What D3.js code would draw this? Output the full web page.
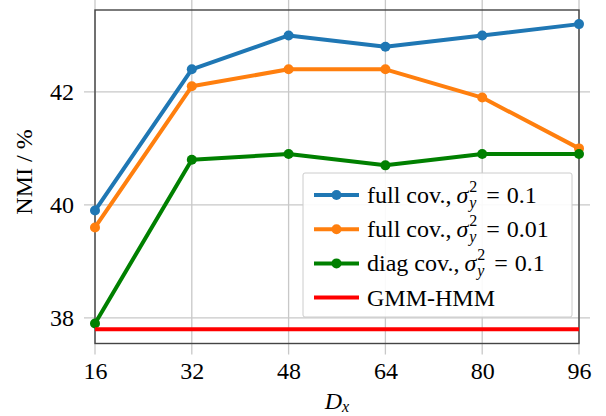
<!DOCTYPE html>
<html>
<head>
<meta charset="utf-8">
<script src="https://cdn.jsdelivr.net/npm/d3@7"></script>
<style>
  body { margin: 0; background: #fff; }
  svg text { font-family: "Liberation Serif", "DejaVu Serif", serif; }
</style>
</head>
<body>
<div id="chart"></div>
<script>
// data
const dx = [16, 32, 48, 64, 80, 96];
const fullCov01 = [39.9, 42.4, 43.0, 42.8, 43.0, 43.2];
const fullCov001 = [39.6, 42.1, 42.4, 42.4, 41.9, 41.0];
const diagCov01 = [37.9, 40.8, 40.9, 40.7, 40.9, 40.9];
const gmmHmm = [37.8, 37.8, 37.8, 37.8, 37.8, 37.8];
const yTicks = [38, 40, 42];
const seriesNames = ["full cov.,", "full cov.,", "diag cov.,", "GMM-HMM"];
const sigmaValues = ["0.1", "0.01", "0.1", null];

const series = [
    {name: seriesNames[0], sig: sigmaValues[0], values: fullCov01, color: "#1f77b4", marker: true},
    {name: seriesNames[1], sig: sigmaValues[1], values: fullCov001, color: "#ff7f0e", marker: true},
    {name: seriesNames[2], sig: sigmaValues[2], values: diagCov01, color: "#008000", marker: true},
    {name: seriesNames[3], sig: sigmaValues[3], values: gmmHmm, color: "#ff0000", marker: false},
];

const width = 606, height = 416;
const plotL = 95, plotR = 579, plotT = 10, plotB = 343.5;
const fs = 24, fsSmall = 16;
const serif = '"Liberation Serif", "DejaVu Serif", serif';

const svg = d3.select("#chart").append("svg")
    .attr("width", width).attr("height", height)
    .attr("font-family", serif);

const x = d3.scaleLinear().domain([16, 96]).range([plotL, plotR]);
const y = d3.scaleLinear().domain([37.546, 43.45]).range([plotB, plotT]);

// grid (extends past the frame like tick marks)
const ext = 11;
svg.append("g").selectAll("line")
    .data(dx).enter().append("line")
    .attr("x1", d => x(d)).attr("x2", d => x(d))
    .attr("y1", plotT - ext).attr("y2", plotB + ext)
    .attr("stroke", "#c8c8c8").attr("stroke-width", 1.3);
svg.append("g").selectAll("line")
    .data(yTicks).enter().append("line")
    .attr("y1", d => y(d)).attr("y2", d => y(d))
    .attr("x1", plotL - ext).attr("x2", plotR + ext)
    .attr("stroke", "#c8c8c8").attr("stroke-width", 1.3);

// tick labels through axes
const xAxis = svg.append("g")
    .attr("transform", `translate(0,${plotB})`)
    .call(d3.axisBottom(x).tickValues(dx).tickFormat(d3.format("d")).tickSize(0).tickPadding(18));
const yAxis = svg.append("g")
    .attr("transform", `translate(${plotL},0)`)
    .call(d3.axisLeft(y).tickValues(yTicks).tickFormat(d3.format("d")).tickSize(0).tickPadding(21));
[xAxis, yAxis].forEach(a => {
    a.attr("font-family", serif).attr("font-size", fs);
    a.select(".domain").remove();
    a.selectAll("text").attr("fill", "#000");
});

// frame
svg.append("rect")
    .attr("x", plotL).attr("y", plotT)
    .attr("width", plotR - plotL).attr("height", plotB - plotT)
    .attr("fill", "none").attr("stroke", "#444").attr("stroke-width", 1.4);

// lines
const line = d3.line()
    .x((d, i) => x(dx[i]))
    .y(d => y(d));

series.forEach(s => {
    svg.append("path")
        .datum(s.values)
        .attr("d", line)
        .attr("fill", "none")
        .attr("stroke", s.color)
        .attr("stroke-width", 4)
        .attr("stroke-linejoin", "round");
    if (s.marker) {
        svg.append("g").selectAll("circle")
            .data(s.values).enter().append("circle")
            .attr("cx", (d, i) => x(dx[i]))
            .attr("cy", d => y(d))
            .attr("r", 5)
            .attr("fill", s.color);
    }
});

// legend
const lg = svg.append("g");
lg.append("rect")
    .attr("x", 303).attr("y", 173)
    .attr("width", 269).attr("height", 144)
    .attr("rx", 2)
    .attr("fill", "#fff").attr("fill-opacity", 0.9)
    .attr("stroke", "#cccccc").attr("stroke-width", 1);

series.forEach((s, i) => {
    const cy = 195 + i * 34.2;
    lg.append("line")
        .attr("x1", 314).attr("x2", 359)
        .attr("y1", cy).attr("y2", cy)
        .attr("stroke", s.color).attr("stroke-width", 4);
    if (s.marker) {
        lg.append("circle").attr("cx", 336.5).attr("cy", cy).attr("r", 5).attr("fill", s.color);
    }
    const base = cy + 8;
    const t = lg.append("text")
        .attr("x", 367).attr("y", base)
        .attr("font-size", fs)
        .text(s.name);
    if (s.sig) {
        let cx = 367 + t.node().getComputedTextLength() + 5;
        const sg = lg.append("text").attr("x", cx).attr("y", base)
            .attr("font-size", fs).attr("font-style", "italic").text("σ");
        cx += sg.node().getComputedTextLength() + 1;
        lg.append("text").attr("x", cx).attr("y", base - 11)
            .attr("font-size", fsSmall).text("2");
        lg.append("text").attr("x", cx).attr("y", base + 5)
            .attr("font-size", fsSmall).attr("font-style", "italic").text("y");
        cx += 17;
        const eq = lg.append("text").attr("x", cx).attr("y", base)
            .attr("font-size", fs).text("=");
        cx += eq.node().getComputedTextLength() + 7;
        lg.append("text").attr("x", cx).attr("y", base)
            .attr("font-size", fs).text(s.sig);
    }
});

// axis titles
const xt = svg.append("text")
    .attr("x", 337).attr("y", 409)
    .attr("text-anchor", "middle")
    .attr("font-size", fs);
xt.append("tspan").attr("font-style", "italic").text("D");
xt.append("tspan").attr("font-style", "italic").attr("font-size", fsSmall).attr("dy", 3).text("x");

svg.append("text")
    .attr("transform", "translate(32,172) rotate(-90)")
    .attr("text-anchor", "middle")
    .attr("font-size", fs)
    .text("NMI / %");
</script>
</body>
</html>
